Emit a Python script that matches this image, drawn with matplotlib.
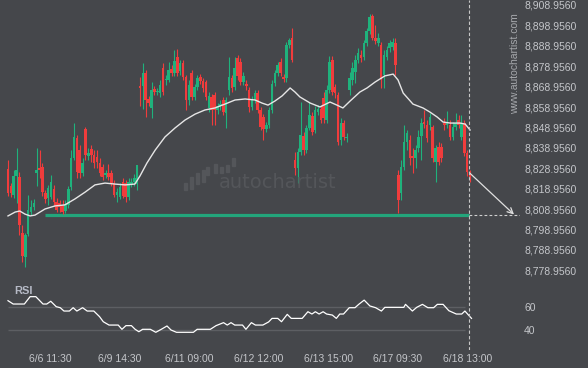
import matplotlib
matplotlib.use('Agg')
import matplotlib.pyplot as plt
from matplotlib.patches import Rectangle
import numpy as np

# ---------------- data ----------------
opens = [8828.6, 8820.3, 8815.9, 8825.2, 8824.7, 8797.2, 8785.5, 8796.7, 8807.5, 8810.0,
         8826.6, 8829.1, 8829.6, 8816.8, 8814.4, 8814.9, 8818.8, 8812.4, 8811.9, 8810.9,
         8808.0, 8810.9, 8819.8, 8834.0, 8843.8, 8837.9, 8826.6, 8848.2, 8835.0, 8838.4,
         8835.4, 8834.5, 8831.5, 8829.6, 8825.6, 8826.6, 8826.6, 8821.7, 8815.9, 8814.9,
         8822.2, 8821.7, 8814.9, 8821.2, 8822.2, 8821.2,
         8869.3, 8869.3, 8875.6, 8862.9, 8858.5, 8867.8, 8866.3, 8865.8, 8878.1, 8872.2,
         8872.2, 8877.6, 8875.6, 8883.5, 8876.6, 8880.5, 8873.7, 8862.4, 8875.6, 8863.9,
         8868.8, 8873.7, 8871.7, 8871.2, 8858.5, 8863.9, 8864.9, 8857.5,
         8859.5, 8862.4, 8856.0, 8867.3, 8873.2, 8868.8, 8883.0, 8881.0, 8871.2, 8870.2,
         8867.3, 8859.0, 8862.4, 8865.8, 8857.5, 8854.1, 8848.2, 8850.1, 8857.5, 8870.7,
         8875.6, 8881.0, 8873.7, 8873.2, 8889.3, 8892.8, 8833.0, 8829.1, 8836.9, 8844.8,
         8837.9, 8848.7, 8854.6, 8847.7, 8856.5, 8858.0, 8863.4, 8852.6, 8867.3, 8882.0,
         8868.8, 8864.9, 8842.8, 8851.1, 8843.8, 8867.3, 8872.2, 8876.1, 8882.0, 8884.4,
         8883.5, 8890.3, 8896.2, 8903.6, 8892.8, 8890.3,
         8889.3, 8874.7, 8883.5, 8887.9, 8888.4, 8890.3, 8825.6, 8816.8, 8829.6, 8841.8,
         8842.8, 8835.0, 8834.0, 8838.9, 8844.8, 8851.6, 8850.1, 8850.1, 8849.2, 8832.0,
         8839.4, 8839.4, 8851.1, 8850.1, 8850.1, 8844.3, 8849.2, 8852.6, 8844.3, 8851.1,
         8836.4, 8827.1]
highs = [8833.0, 8821.7, 8828.1, 8838.9, 8827.1, 8801.2, 8797.2, 8815.9, 8813.4, 8814.0,
         8838.9, 8837.9, 8831.5, 8818.3, 8820.8, 8825.6, 8820.8, 8814.4, 8813.4, 8813.4,
         8813.4, 8820.3, 8837.9, 8851.1, 8845.3, 8840.4, 8834.0, 8849.2, 8838.9, 8840.4,
         8837.9, 8837.9, 8834.0, 8831.0, 8828.1, 8831.0, 8828.1, 8823.2, 8819.3, 8821.7,
         8824.2, 8823.2, 8824.2, 8824.2, 8826.0, 8830.6,
         8873.7, 8880.5, 8877.1, 8864.4, 8871.2, 8869.3, 8868.3, 8872.2, 8880.5, 8874.7,
         8881.0, 8879.6, 8886.9, 8887.4, 8882.0, 8882.0, 8874.7, 8872.2, 8877.1, 8870.2,
         8874.7, 8875.1, 8873.2, 8872.2, 8866.3, 8865.3, 8866.3, 8861.0,
         8862.4, 8863.9, 8863.9, 8883.5, 8874.7, 8883.5, 8884.4, 8883.0, 8876.1, 8872.2,
         8868.8, 8864.4, 8867.3, 8867.3, 8859.0, 8855.5, 8851.6, 8859.0, 8872.2, 8877.1,
         8881.0, 8883.0, 8875.1, 8890.8, 8892.8, 8897.7, 8836.9, 8838.9, 8861.4, 8846.7,
         8850.1, 8861.4, 8856.5, 8859.5, 8859.9, 8859.9, 8866.3, 8869.8, 8884.0, 8884.0,
         8870.2, 8866.3, 8853.6, 8852.6, 8846.2, 8876.1, 8881.0, 8884.4, 8887.9, 8886.9,
         8891.8, 8897.7, 8904.5, 8904.5, 8899.2, 8895.2,
         8890.8, 8886.9, 8888.9, 8891.8, 8892.8, 8892.8, 8828.1, 8833.0, 8850.1, 8847.7,
         8845.3, 8838.9, 8840.4, 8847.7, 8853.6, 8857.5, 8852.6, 8856.0, 8850.1, 8840.4,
         8841.8, 8841.3, 8853.6, 8857.0, 8852.6, 8851.6, 8856.0, 8855.0, 8855.0, 8852.6,
         8837.9, 8828.1]
lows = [8815.4, 8814.9, 8814.4, 8811.9, 8796.3, 8783.0, 8780.6, 8796.0, 8806.0, 8808.5,
        8820.3, 8824.2, 8815.4, 8811.9, 8810.9, 8813.9, 8810.5, 8807.5, 8807.5, 8806.5,
        8807.0, 8809.5, 8818.3, 8833.0, 8824.2, 8824.2, 8825.2, 8833.0, 8833.0, 8832.0,
        8829.1, 8829.1, 8825.2, 8823.2, 8824.2, 8823.2, 8820.3, 8814.9, 8812.4, 8813.9,
        8814.4, 8812.4, 8813.4, 8819.8, 8820.5, 8818.3,
        8859.5, 8858.0, 8854.1, 8859.5, 8853.6, 8864.9, 8864.9, 8863.9, 8864.9, 8869.8,
        8871.2, 8874.2, 8874.2, 8874.2, 8874.7, 8872.2, 8857.5, 8859.9, 8862.4, 8862.4,
        8867.3, 8870.2, 8866.3, 8862.4, 8856.5, 8850.1, 8850.1, 8855.5,
        8857.5, 8855.0, 8848.7, 8864.9, 8866.3, 8867.3, 8872.2, 8869.8, 8869.8, 8867.3,
        8856.5, 8857.5, 8860.9, 8856.0, 8847.7, 8842.8, 8846.7, 8848.7, 8856.0, 8869.3,
        8874.2, 8874.2, 8871.2, 8871.2, 8887.9, 8881.0, 8825.6, 8821.7, 8835.4, 8835.4,
        8836.4, 8847.7, 8845.3, 8846.2, 8855.0, 8851.1, 8851.1, 8851.1, 8865.8, 8864.9,
        8863.4, 8840.4, 8840.4, 8842.8, 8841.8, 8864.9, 8869.8, 8870.7, 8880.5, 8881.0,
        8882.0, 8888.9, 8894.7, 8891.8, 8889.8, 8888.9,
        8868.3, 8868.3, 8882.0, 8885.9, 8886.9, 8874.7, 8807.0, 8813.4, 8828.1, 8837.9,
        8830.6, 8826.6, 8829.1, 8836.9, 8833.0, 8848.7, 8841.8, 8847.7, 8832.0, 8822.2,
        8830.6, 8832.0, 8847.7, 8848.7, 8842.8, 8842.8, 8847.7, 8848.7, 8842.8, 8835.0,
        8825.2, 8822.2]
closes = [8816.8, 8816.8, 8825.2, 8828.1, 8801.2, 8785.9, 8796.3, 8808.5, 8810.0, 8812.0,
          8828.1, 8828.1, 8817.3, 8813.9, 8819.3, 8822.2, 8812.4, 8808.5, 8810.0, 8807.5,
          8811.4, 8818.8, 8834.0, 8844.3, 8827.1, 8826.6, 8831.5, 8835.4, 8836.4, 8835.4,
          8831.5, 8832.0, 8826.6, 8824.7, 8826.6, 8824.7, 8821.7, 8815.9, 8817.3, 8819.8,
          8815.4, 8814.9, 8822.2, 8822.2, 8824.0, 8830.6,
          8868.3, 8875.6, 8862.4, 8860.9, 8867.3, 8866.3, 8866.8, 8869.8, 8866.3, 8872.7,
          8877.1, 8875.6, 8881.5, 8875.6, 8880.5, 8873.7, 8862.4, 8869.8, 8863.9, 8868.8,
          8873.2, 8871.7, 8868.3, 8863.9, 8864.4, 8857.5, 8857.5, 8859.5,
          8860.4, 8856.5, 8862.4, 8873.7, 8868.3, 8878.1, 8874.2, 8871.2, 8874.2, 8869.3,
          8859.0, 8862.4, 8865.8, 8857.5, 8849.2, 8848.2, 8850.1, 8857.5, 8870.2, 8875.6,
          8879.6, 8875.6, 8872.7, 8889.3, 8891.8, 8882.0, 8829.1, 8836.9, 8845.3, 8837.9,
          8848.7, 8855.0, 8846.7, 8857.5, 8858.0, 8852.6, 8853.6, 8867.3, 8881.0, 8866.3,
          8865.8, 8841.8, 8851.1, 8844.3, 8844.3, 8873.2, 8878.1, 8882.0, 8885.4, 8883.0,
          8890.3, 8896.2, 8903.1, 8892.8, 8891.3, 8892.8,
          8873.2, 8884.4, 8886.9, 8890.3, 8890.8, 8879.6, 8813.4, 8829.6, 8841.8, 8846.2,
          8834.0, 8834.0, 8837.9, 8844.3, 8851.1, 8850.6, 8843.8, 8854.1, 8834.0, 8838.9,
          8832.0, 8834.0, 8850.1, 8851.6, 8844.3, 8849.2, 8851.1, 8850.1, 8851.1, 8836.4,
          8827.1, 8824.7]

# moving average
ma_idx = [0, 2.5, 4.1, 5.9, 7.7, 9.4, 12.9, 16.4, 19.8, 23.3, 26.9, 30.3, 33.8, 37.3, 40.8,
          44.2, 46.0, 48.4, 51.3, 54.7, 58.2, 61.7, 65.2, 68.6, 72.1, 75.6, 79.1, 82.6, 86.1,
          88.5, 90.6, 93.0, 95.5, 98.3, 100.0, 101.7, 105.3, 108.7, 112.2, 114.6, 116.7, 119.2,
          122.6, 125.1, 127.9, 131.3, 134.2, 135.9, 137.7, 141.1, 144.6, 147.0, 149.5, 151.6,
          154.1, 157.5, 159.3, 161.0]
ma_val = [8805.6, 8807.5, 8808.0, 8806.5, 8805.6, 8806.0, 8809.0, 8810.5, 8811.0, 8813.9,
          8817.3, 8820.8, 8821.7, 8821.2, 8820.8, 8821.2, 8825.2, 8831.5, 8837.9, 8844.3,
          8848.7, 8852.6, 8855.5, 8857.5, 8858.5, 8860.4, 8862.4, 8862.9, 8862.4, 8860.9,
          8859.9, 8861.9, 8864.4, 8868.3, 8866.3, 8863.9, 8860.9, 8859.0, 8861.4, 8859.9,
          8858.5, 8861.9, 8866.3, 8868.3, 8871.2, 8874.2, 8875.1, 8872.2, 8865.8, 8860.4,
          8858.5, 8856.5, 8854.1, 8851.6, 8851.1, 8851.1, 8850.6, 8847.7]

# RSI
rsi_idx = [0, 1.8, 5.7, 7.7, 9.7, 12.2, 13.5, 14.9, 16.8, 18.2, 19.5, 21.4, 22.7, 24.0, 26.0,
           27.6, 29.9, 31.9, 33.2, 35.2, 38.4, 39.7, 41.1, 43.0, 44.3, 45.6, 46.9, 49.6, 51.5,
           53.4, 55.4, 56.8, 58.7, 64.6, 65.9, 70.5, 72.5, 75.1, 76.4, 77.7, 79.0, 81.7, 82.9,
           84.8, 86.2, 88.8, 90.8, 92.0, 94.0, 95.3, 97.3, 98.7, 102.5, 104.5, 105.9, 107.1,
           108.4, 109.8, 111.0, 113.0, 114.4, 115.6, 116.9, 118.9, 120.9, 122.2, 124.1, 126.1,
           128.1, 130.1, 131.3, 133.3, 137.9, 138.5, 140.9, 142.4, 144.4, 146.3, 148.3, 149.6,
           151.6, 153.6, 156.2, 158.1, 159.2, 161.5]
rsi_val = [65.5, 62.6, 62.6, 69.0, 69.0, 62.6, 62.6, 65.0, 60.3, 59.4, 56.5, 56.5, 59.4, 56.5,
           59.4, 56.5, 56.5, 51.6, 47.2, 44.3, 44.3, 40.6, 43.8, 43.8, 40.6, 38.5, 40.6, 40.6,
           38.0, 40.6, 43.5, 40.0, 38.0, 38.0, 40.6, 40.6, 43.8, 46.4, 44.3, 46.4, 44.3, 44.3,
           40.6, 46.4, 44.3, 44.3, 47.0, 50.1, 50.1, 47.2, 53.6, 50.1, 50.1, 55.9, 53.9, 55.9,
           53.9, 55.9, 53.9, 53.0, 50.1, 53.9, 53.9, 59.4, 59.4, 62.3, 66.0, 60.9, 59.4, 56.5,
           59.7, 59.7, 59.7, 62.3, 56.5, 59.7, 62.3, 59.4, 59.4, 62.3, 62.3, 56.8, 53.9, 53.9,
           56.5, 50.1]

tick_idx = [14.6, 39.0, 63.1, 87.5, 111.7, 135.7, 160.2]
tick_labels = ['6/6 11:30', '6/9 14:30', '6/11 09:00', '6/12 12:00', '6/13 15:00',
               '6/17 09:30', '6/18 13:00']
price_ticks = [8778.956 + 10 * i for i in range(14)]
rsi_ticks = [40, 60]

support_level = 8806.0
support_start = 12.9
target_end_idx = 176.3
now_idx = 160.8

# ---------------- style ----------------
BG = '#45474b'
UP = '#1fb27c'
DOWN = '#f03c3c'
TXT = '#c4c6ca'
FONT = 'Liberation Sans'
W, H = 588, 368

fig = plt.figure(figsize=(W / 100, H / 100), dpi=100, facecolor=BG)

k = 2.87  # px per candle
xlim = (-8 / k, (520 - 8) / k)

ax = fig.add_axes([0, 1 - 280 / H, 520 / W, 280 / H], facecolor=BG)
rax = fig.add_axes([0, 1 - 350 / H, 520 / W, 70 / H], facecolor=BG)

for a in (ax, rax):
    a.set_xlim(*xlim)
    for s in a.spines.values():
        s.set_visible(False)
    a.yaxis.tick_right()
    a.tick_params(axis='y', length=0, pad=3, labelsize=7.5, labelcolor=TXT)

ax.set_ylim(8774.2, 8911.4)
rax.set_ylim(22.6, 83.5)

# watermark
wm = '#54565a'
fig.text(278 / W, 1 - 183 / H, 'autochartist', color=wm, fontsize=14,
         ha='center', va='center', family='DejaVu Sans', zorder=0)
bars = [(185, 183, 190), (191, 177, 189), (197, 173, 184), (203, 170, 182),
        (208, 167, 175), (215, 164, 173), (221, 167, 173), (227, 165, 172), (233, 158, 166)]
for cx, t, b in bars:
    fig.patches.append(Rectangle(((cx - 1.5) / W, 1 - b / H), 3 / W, (b - t) / H,
                                 transform=fig.transFigure, color=wm, zorder=0))
fig.text(515 / W, 1 - 64 / H, 'www.autochartist.com', rotation=90, color='#a6a8ac',
         fontsize=7.5, ha='center', va='center', family=FONT)

# candles
x = np.arange(len(opens))
o = np.array(opens); c = np.array(closes); hi = np.array(highs); lo = np.array(lows)
col = np.where(c >= o, UP, DOWN)
ax.vlines(x, lo, hi, colors=col, linewidth=0.8, zorder=3)
ax.bar(x, np.maximum(np.abs(c - o), 0.4), bottom=np.minimum(o, c), width=0.9,
       color=col, linewidth=0, zorder=4)

# moving average
ax.plot(ma_idx, ma_val, color='#e6e6e6', lw=1.0, zorder=5)

# support line and forecast
ax.hlines(support_level, support_start, now_idx, color='#23a57b', lw=2.3, zorder=2)
ax.hlines(support_level, now_idx, xlim[1], color='#d0d0d0', lw=0.8,
          linestyles=(0, (2.5, 2)), zorder=2)
ax.annotate('', xy=(target_end_idx, support_level + 0.3), xytext=(now_idx, closes[-1] + 2),
            arrowprops=dict(arrowstyle='->', color='#e0e0e0', lw=0.9,
                            mutation_scale=10, shrinkA=0, shrinkB=0), zorder=6)

for a in (ax, rax):
    a.axvline(now_idx, color='#c8c8c8', lw=0.8, linestyle=(0, (3, 2)), zorder=6)

ax.set_yticks(price_ticks)
ax.set_yticklabels([f'{v:,.4f}' for v in price_ticks], fontfamily=FONT)
ax.set_xticks([])

# RSI panel
for lv in rsi_ticks:
    rax.hlines(lv, 0, 159.2, color='#5d5f63', lw=1.0, zorder=1)
rax.plot(rsi_idx, rsi_val, color='white', lw=0.9, zorder=3)
rax.set_yticks(rsi_ticks)
rax.set_yticklabels([str(v) for v in rsi_ticks], fontfamily=FONT)
rax.set_xticks(tick_idx)
rax.set_xticklabels(tick_labels, fontfamily=FONT)
rax.tick_params(axis='x', length=0, pad=3, labelsize=7.5, labelcolor=TXT)
fig.text(14 / W, 1 - 291 / H, 'RSI', color='#b6bac6', fontsize=8, fontweight='bold',
         family=FONT, ha='left', va='center')

fig.savefig('out.png', dpi=100, facecolor=BG)
